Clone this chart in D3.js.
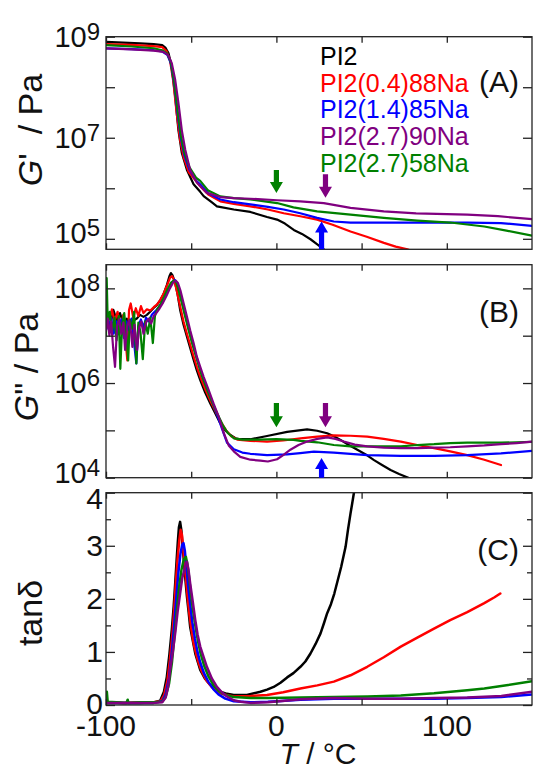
<!DOCTYPE html>
<html><head><meta charset="utf-8">
<script src="https://cdn.jsdelivr.net/npm/d3@7/dist/d3.min.js"></script>
<style>
body{margin:0;background:#fff}
svg{display:block}
text{font-family:"Liberation Sans",Arial,Helvetica,sans-serif}
</style>
</head><body>
<svg id="c" width="533" height="771"></svg>
<script>
// ---------------- DATA ----------------
const seriesNames = ["PI2", "PI2(0.4)88Na", "PI2(1.4)85Na", "PI2(2.7)90Na", "PI2(2.7)58Na"];
const seriesColors = ["#000000", "#ff0000", "#0000ff", "#800080", "#008000"];
const xTickLabels = ["-100", "0", "100"];
const xTickMajor = [-100, 0, 100];
const xTickMinor = [-50, 50];
const gpTicks = [1e5, 1e6, 1e7, 1e8, 1e9];
const gpLabelExp = [5, 7, 9];
const gppTicks = [1e4, 1e5, 1e6, 1e7, 1e8];
const gppLabelExp = [4, 6, 8];
const tanTicksMajor = [0, 1, 2, 3, 4];
const tanTicksMinor = [0.5, 1.5, 2.5, 3.5];

// G' (Pa) vs T (°C)
const gp_PI2 = [[-100,7.9e8],[-90,7.6e8],[-80,7.4e8],[-72,7.1e8],[-67,6.8e8],[-65,6.0e8],[-63.3,4.7e8],[-61.4,2.5e8],[-59.4,6.5e7],[-57.5,1.4e7],[-55.5,5.0e6],[-52.5,2.3e6],[-48.6,1.2e6],[-44.7,8.5e5],[-42.7,7.0e5],[-38,5.3e5],[-34.9,4.4e5],[-25,3.8e5],[-15.3,3.4e5],[-5.5,2.7e5],[0.4,2.4e5],[5,2.0e5],[10.2,1.5e5],[15,1.25e5],[20,9.8e4],[24,7.8e4],[27.8,6.2e4],[29,5.6e4]];
const gp_04_88 = [[-100,7.1e8],[-85,6.9e8],[-72,6.5e8],[-67,6.2e8],[-64.5,5.2e8],[-62.5,3.5e8],[-60.5,1.3e8],[-58.5,3.0e7],[-56.5,9.0e6],[-54.5,4.2e6],[-51.5,2.1e6],[-48,1.5e6],[-44.7,1.1e6],[-40,7.5e5],[-32.9,5.5e5],[-25,4.9e5],[-15.3,4.4e5],[-5,3.8e5],[4.3,3.2e5],[14,2.8e5],[23.9,2.4e5],[33,1.9e5],[43.5,1.4e5],[53,1.1e5],[63.1,8.3e4],[70,7.0e4],[76.9,6.2e4],[78,6.0e4]];
const gp_14_85 = [[-100,5.9e8],[-85,5.7e8],[-72,5.4e8],[-67,5.1e8],[-64,4.4e8],[-62,3.0e8],[-60,1.2e8],[-58,3.0e7],[-56,9.5e6],[-54,4.5e6],[-51,2.3e6],[-47,1.4e6],[-44.7,1.2e6],[-40,8.0e5],[-32.9,6.0e5],[-25,5.3e5],[-15.3,4.8e5],[-5,4.3e5],[4.3,3.8e5],[14,3.2e5],[23.9,2.6e5],[33.7,2.2e5],[43.5,2.1e5],[53.3,2.1e5],[73,2.1e5],[92.5,2.1e5],[112,2.1e5],[131.8,2.05e5],[150,1.8e5]];
const gp_27_90 = [[-100,5.9e8],[-85,5.6e8],[-72,5.3e8],[-66.3,5.0e8],[-63.5,4.3e8],[-61.4,3.0e8],[-59.4,1.4e8],[-57.5,4.9e7],[-55.5,1.4e7],[-53.5,5.8e6],[-50.6,2.3e6],[-46.7,1.3e6],[-40.8,8.1e5],[-32.9,6.7e5],[-25,6.4e5],[-15.3,6.2e5],[0.4,5.8e5],[14,5.5e5],[27.8,5.1e5],[43.5,4.1e5],[63,3.5e5],[82,3.2e5],[112,3.0e5],[130,2.8e5],[150,2.45e5]];
const gp_27_58 = [[-100,6.8e8],[-85,6.4e8],[-72,5.9e8],[-67,5.4e8],[-64,4.6e8],[-62,3.2e8],[-60,1.3e8],[-58,3.5e7],[-56,1.1e7],[-54,5.0e6],[-51,2.6e6],[-47,1.6e6],[-44.7,1.4e6],[-40,9.0e5],[-32.9,6.9e5],[-25,6.4e5],[-15.3,6.0e5],[0.4,5.1e5],[10,4.2e5],[23.9,3.5e5],[43.5,3.0e5],[63,2.6e5],[82.7,2.3e5],[102,2.1e5],[122,1.75e5],[135,1.45e5],[150,1.15e5]];

// G'' (Pa) vs T (°C)
const gpp_PI2 = [[-99.6,2.5e7],[-97.6,1.55e7],[-95.7,3.5e7],[-93.7,2.1e7],[-91.8,3.0e7],[-89.8,1.8e7],[-87.8,2.3e7],[-85.9,1.55e7],[-83.9,2.1e7],[-81.9,2.3e7],[-80,2.75e7],[-78,2.5e7],[-76,2.75e7],[-74.1,3.2e7],[-72.2,3.8e7],[-70.2,4.4e7],[-68.2,5.6e7],[-66.3,7.5e7],[-64.3,1.17e8],[-62.8,1.8e8],[-61.9,2.1e8],[-61,1.9e8],[-59.4,1.3e8],[-58,7.5e7],[-56.5,3.5e7],[-54.5,1.7e7],[-52.5,9.5e6],[-50.6,5.5e6],[-48.6,3.1e6],[-46.7,1.85e6],[-44.7,1.15e6],[-41.8,6.3e5],[-38.8,3.7e5],[-35.9,2.3e5],[-32.9,1.4e5],[-30,1.0e5],[-27,8.0e4],[-24,6.8e4],[-21.2,6.5e4],[-15.3,6.5e4],[-5.5,7.6e4],[6.3,9.3e4],[18,1.05e5],[23.9,9.8e4],[29.8,8.7e4],[33.7,7.5e4],[37.6,6.3e4],[42.5,4.9e4],[47.5,3.9e4],[52.4,3.1e4],[57.3,2.35e4],[62,1.85e4],[67,1.45e4],[72,1.2e4],[77.8,9.8e3]];
const gpp_04_88 = [[-99.6,3.0e7],[-98,2.2e7],[-96.5,3.6e7],[-95,2.0e7],[-93.2,3.2e7],[-91.5,1.4e7],[-89.8,2.8e7],[-88.5,8.0e6],[-87.5,3.0e6],[-86.5,3.5e7],[-85.5,4.8e7],[-84,2.4e7],[-82.5,3.8e7],[-81,2.6e7],[-79.5,4.2e7],[-78,3.0e7],[-76,3.6e7],[-74,3.4e7],[-72,4.0e7],[-70,4.6e7],[-68,5.8e7],[-66,8.0e7],[-64,1.2e8],[-62.3,1.7e8],[-61.2,1.8e8],[-60,1.5e8],[-58.5,9.0e7],[-56.5,4.2e7],[-54.5,2.0e7],[-52.5,1.1e7],[-50.5,6.3e6],[-48.5,3.6e6],[-46.5,2.1e6],[-44.5,1.3e6],[-41.5,7.0e5],[-38.5,4.0e5],[-35.5,2.4e5],[-32.5,1.5e5],[-29.5,1.0e5],[-26.5,7.5e4],[-23,6.4e4],[-15.3,6.0e4],[-5.5,5.8e4],[4,6.1e4],[14.1,6.8e4],[24,7.4e4],[33.7,7.8e4],[43.5,7.7e4],[53.3,7.4e4],[63,6.6e4],[73,5.8e4],[82.7,4.9e4],[92.5,4.2e4],[102,3.6e4],[112,3.0e4],[122,2.4e4],[131.8,1.85e4]];
const gpp_14_85 = [[-100,2.0e7],[-98.5,1.4e7],[-97,2.4e7],[-95.5,1.1e7],[-94,2.0e7],[-92.5,1.3e7],[-91,2.2e7],[-89.5,9.0e6],[-88,2.0e7],[-86.5,1.3e7],[-85,2.3e7],[-83.5,7.0e6],[-82.2,2.6e6],[-81,1.6e7],[-79.5,2.2e7],[-78,1.5e7],[-76.5,2.4e7],[-75,2.0e7],[-73,2.8e7],[-71,3.3e7],[-69,4.0e7],[-67,5.2e7],[-65,7.0e7],[-63,1.0e8],[-61.2,1.35e8],[-59.6,1.5e8],[-58.3,1.3e8],[-56.8,8.5e7],[-55,4.5e7],[-53,2.3e7],[-51,1.2e7],[-49,6.5e6],[-47,3.7e6],[-45,2.1e6],[-43,1.25e6],[-40,6.5e5],[-37,3.5e5],[-34.5,2.0e5],[-32,1.1e5],[-29,5.5e4],[-25,4.0e4],[-20,3.4e4],[-15.3,3.2e4],[-5.5,3.0e4],[6.3,3.1e4],[14,3.3e4],[22,3.55e4],[33.7,3.4e4],[53.3,3.0e4],[73,2.9e4],[92.5,2.9e4],[112,3.0e4],[131.8,3.25e4],[150,3.7e4]];
const gpp_27_90 = [[-100,1.3e7],[-99,2.3e7],[-98,1.0e7],[-97,2.0e7],[-95.8,5.5e6],[-94.7,2.2e6],[-93.5,1.6e7],[-92.3,2.2e7],[-91,1.1e7],[-89.8,1.9e7],[-88.8,5.0e6],[-87.6,1.6e7],[-86.4,2.1e7],[-85.3,1.2e7],[-84.5,5.8e6],[-83.3,1.7e7],[-81.8,5.0e6],[-80.5,1.5e7],[-79.3,2.0e7],[-78,1.1e7],[-76.5,1.9e7],[-75,2.3e7],[-73.5,1.8e7],[-72,2.6e7],[-70.5,3.0e7],[-68.5,3.8e7],[-66.5,5.0e7],[-64.5,7.0e7],[-62.5,1.0e8],[-60.5,1.35e8],[-59,1.45e8],[-57.8,1.3e8],[-56.3,9.0e7],[-54.5,4.9e7],[-52.5,2.5e7],[-50.6,1.3e7],[-48.6,7.0e6],[-46.7,3.6e6],[-44.7,2.2e6],[-42.7,1.35e6],[-40,7.5e5],[-36.9,3.7e5],[-34,2.0e5],[-31,9.0e4],[-28,4.8e4],[-25,3.6e4],[-21.2,2.75e4],[-15.3,2.4e4],[-9.4,2.3e4],[-5,2.2e4],[0.4,2.45e4],[4,3.0e4],[8.2,3.9e4],[13,4.9e4],[18,5.8e4],[24,6.6e4],[29.8,7.1e4],[34.6,6.6e4],[39.6,5.8e4],[46,5.0e4],[53.3,4.6e4],[63,4.3e4],[73,4.2e4],[82.7,4.2e4],[92.5,4.3e4],[102,4.4e4],[112,4.6e4],[122,4.8e4],[131.8,5.1e4],[141,5.4e4],[150,5.8e4]];
const gpp_27_58 = [[-100,1.0e7],[-99.6,1.65e8],[-99,2.0e7],[-97.8,3.2e7],[-96.5,1.2e7],[-95,2.4e7],[-93.8,8.0e6],[-92.5,2.6e7],[-91.6,2.0e6],[-90.5,1.8e7],[-89.3,3.0e7],[-88,1.0e7],[-87,3.0e6],[-86,2.2e7],[-84.7,1.4e7],[-83.5,3.2e7],[-82.2,2.6e6],[-81,1.9e7],[-79.8,1.2e7],[-78.4,3.2e6],[-77,2.0e7],[-75.5,1.1e7],[-74,2.4e7],[-72.5,7.0e6],[-71.3,2.6e7],[-70,3.6e7],[-68,4.6e7],[-66,6.5e7],[-64,9.5e7],[-62,1.3e8],[-60.3,1.45e8],[-59,1.4e8],[-57.5,9.5e7],[-55.5,5.0e7],[-53.5,2.5e7],[-51.5,1.3e7],[-49.5,7.0e6],[-47.5,4.0e6],[-45.5,2.3e6],[-43.5,1.35e6],[-40.5,7.0e5],[-37.5,3.8e5],[-34.5,2.2e5],[-31.5,1.3e5],[-28.5,8.8e4],[-25,6.8e4],[-20,6.4e4],[-10,6.4e4],[0,6.5e4],[10,6.3e4],[14.1,6.0e4],[24,5.6e4],[33.7,4.9e4],[43.5,4.6e4],[53.3,4.6e4],[63,4.6e4],[73,4.6e4],[82.7,4.9e4],[92.5,5.1e4],[102,5.4e4],[112,5.5e4],[131.8,5.5e4],[150,5.7e4]];

// tan delta vs T (°C)
const tan_PI2 = [[-100,0.05],[-90,0.04],[-80,0.04],[-72,0.05],[-68.2,0.08],[-66,0.25],[-64.3,0.53],[-62.8,0.95],[-61.4,1.41],[-60.3,1.85],[-59.4,2.29],[-58.6,2.7],[-57.9,3.05],[-57.2,3.35],[-56.5,3.45],[-55.8,3.3],[-55.2,3.05],[-54.5,2.79],[-53.5,2.4],[-52.5,2.04],[-51.5,1.75],[-50.6,1.47],[-49,1.2],[-47.6,0.97],[-46,0.8],[-44.7,0.66],[-42,0.5],[-38.8,0.38],[-35.8,0.3],[-32.9,0.25],[-29,0.21],[-25,0.19],[-17.3,0.19],[-9.4,0.25],[-5.5,0.29],[-1.6,0.34],[2.4,0.42],[6.3,0.52],[10,0.6],[14.1,0.72],[17,0.82],[20,0.97],[23,1.15],[25.9,1.35],[28,1.55],[29.8,1.73],[32,1.9],[34,2.1],[36,2.35],[38,2.6],[40.6,2.98],[42,3.3],[43.5,3.61],[44.5,3.8],[45.5,4.0],[46.5,4.3]];
const tan_04_88 = [[-100,0.05],[-90,0.04],[-80,0.05],[-72,0.05],[-68,0.07],[-66,0.18],[-64,0.45],[-62.5,0.85],[-61,1.35],[-60,1.8],[-59,2.3],[-58,2.75],[-57,3.1],[-56.2,3.3],[-55.4,3.2],[-54.7,2.95],[-54,2.7],[-53,2.35],[-52,2.0],[-51,1.7],[-50,1.45],[-48.5,1.15],[-47,0.95],[-45.5,0.78],[-44,0.65],[-41,0.46],[-38,0.34],[-35,0.26],[-32,0.21],[-28,0.18],[-25,0.16],[-15,0.17],[-5.5,0.19],[4,0.24],[14.1,0.31],[24,0.37],[33.7,0.44],[43.5,0.56],[53.3,0.72],[63,0.9],[73,1.1],[82.7,1.27],[92.5,1.44],[102,1.6],[112,1.75],[122,1.92],[128,2.03],[131.4,2.1]];
const tan_14_85 = [[-100,0.04],[-90,0.04],[-80,0.04],[-72,0.04],[-67,0.07],[-65,0.2],[-63,0.5],[-61.5,0.95],[-60,1.5],[-58.8,2.0],[-57.5,2.5],[-56.3,2.85],[-55.3,3.02],[-54.5,3.05],[-53.7,2.9],[-52.8,2.6],[-51.8,2.25],[-50.6,1.9],[-49.3,1.55],[-47.8,1.25],[-46.3,1.0],[-44.7,0.8],[-42.5,0.6],[-40,0.44],[-37,0.3],[-34,0.2],[-30,0.12],[-25,0.07],[-15,0.05],[-5,0.06],[5,0.08],[14.1,0.1],[33.7,0.12],[53.3,0.12],[73,0.12],[92.5,0.12],[112,0.13],[132,0.15],[150,0.2]];
const tan_27_90 = [[-100,0.04],[-90,0.04],[-80,0.04],[-72,0.04],[-67,0.05],[-65,0.14],[-63.5,0.35],[-62.4,0.66],[-60.8,1.0],[-59.4,1.35],[-58,1.75],[-56.5,2.1],[-55.2,2.4],[-54.1,2.54],[-53.2,2.66],[-52.5,2.7],[-51.6,2.55],[-50.6,2.29],[-49.1,1.95],[-47.6,1.6],[-46.2,1.32],[-44.7,1.1],[-42.7,0.9],[-40.8,0.72],[-37.9,0.5],[-34.9,0.34],[-32,0.24],[-29,0.16],[-25,0.09],[-21,0.06],[-15.3,0.04],[-5,0.05],[5,0.08],[14.1,0.11],[33.7,0.13],[53.3,0.12],[73,0.12],[92.5,0.13],[112,0.14],[132,0.17],[150,0.25]];
const tan_27_58 = [[-100,0.05],[-99.5,0.25],[-99,0.06],[-94,0.05],[-88,0.04],[-87.3,0.1],[-86.8,0.04],[-80,0.05],[-72,0.05],[-67,0.06],[-65,0.15],[-63,0.4],[-61.3,0.8],[-59.8,1.3],[-58.4,1.8],[-57,2.25],[-55.7,2.55],[-54.3,2.75],[-53.1,2.79],[-52.2,2.65],[-51.2,2.4],[-50.2,2.1],[-49,1.8],[-47.6,1.5],[-46,1.2],[-44.5,0.97],[-42.5,0.75],[-40,0.55],[-37,0.38],[-34,0.27],[-30,0.19],[-25,0.15],[-15,0.13],[-5,0.13],[14.1,0.14],[33.7,0.15],[53.3,0.16],[73,0.18],[92.5,0.22],[112,0.28],[122,0.31],[135,0.37],[150,0.45]];

// arrows: [T, tail value, tip value, series index]
const arrowsGp = [[0, 2.3e6, 8.1e5, 4], [28.8, 1.9e6, 6.5e5, 3], [26.5, 6.2e4, 2.2e5, 2]];
const arrowsGpp = [[0, 3.8e5, 1.17e5, 4], [28.8, 3.8e5, 1.17e5, 3], [26.5, 1.0e4, 2.6e4, 2]];

// ---------------- DRAW ----------------
const svg = d3.select("#c");
const X0 = 106, X1 = 532;
const x = d3.scaleLinear().domain([-100, 150]).range([X0, X1]);
const P = {
  A: {top: 36.7, bottom: 249.3},
  B: {top: 264.7, bottom: 477.7},
  C: {top: 492.7, bottom: 705}
};
const yA = d3.scaleLog().domain([6.2e4, 1e9]).range([P.A.bottom, P.A.top]);
const yB = d3.scaleLog().domain([1e4, 3.16e8]).range([P.B.bottom, P.B.top]);
const yC = d3.scaleLinear().domain([0, 4]).range([P.C.bottom, P.C.top]);

const FRAME = "#222";
// draw order: black, red, blue, green, purple
const order = [0, 1, 2, 4, 3];

function panel(id, y, p, data, lw) {
  const g = svg.append("g");
  g.append("clipPath").attr("id", "clip" + id).append("rect")
    .attr("x", X0).attr("y", p.top).attr("width", X1 - X0).attr("height", p.bottom - p.top);
  const line = d3.line().x(d => x(d[0])).y(d => y(d[1]));
  const lg = g.append("g").attr("clip-path", `url(#clip${id})`);
  order.forEach(i => {
    lg.append("path").datum(data[i]).attr("d", line)
      .attr("fill", "none").attr("stroke", seriesColors[i])
      .attr("stroke-width", lw).attr("stroke-linejoin", "round").attr("stroke-linecap", "round");
  });
  return g;
}

function axes(g, y, p, yMajor, yMinor) {
  const clean = s => { s.select(".domain").remove(); s.attr("color", FRAME).selectAll("line").attr("stroke-width", 1.3); };
  g.append("g").attr("transform", `translate(${X0},0)`)
    .call(d3.axisLeft(y).tickValues(yMajor).tickSizeInner(-9).tickSizeOuter(0).tickFormat("")).call(clean);
  g.append("g").attr("transform", `translate(${X1},0)`)
    .call(d3.axisRight(y).tickValues(yMajor).tickSizeInner(-9).tickSizeOuter(0).tickFormat("")).call(clean);
  if (yMinor) {
    g.append("g").attr("transform", `translate(${X0},0)`)
      .call(d3.axisLeft(y).tickValues(yMinor).tickSizeInner(-5).tickSizeOuter(0).tickFormat("")).call(clean);
    g.append("g").attr("transform", `translate(${X1},0)`)
      .call(d3.axisRight(y).tickValues(yMinor).tickSizeInner(-5).tickSizeOuter(0).tickFormat("")).call(clean);
  }
  const xt = xTickMajor.concat(xTickMinor);
  g.append("g").attr("transform", `translate(0,${p.top})`)
    .call(d3.axisTop(x).tickValues(xt).tickSizeInner(-6).tickSizeOuter(0).tickFormat("")).call(clean);
  g.append("g").attr("transform", `translate(0,${p.bottom})`)
    .call(d3.axisBottom(x).tickValues(xt).tickSizeInner(-6).tickSizeOuter(0).tickFormat("")).call(clean);
  g.append("rect").attr("x", X0).attr("y", p.top).attr("width", X1 - X0).attr("height", p.bottom - p.top)
    .attr("fill", "none").attr("stroke", FRAME).attr("stroke-width", 1.3);
}

// lowShift: small vertical nudge (px) for the lowest label, as in the reference
function logLabels(g, y, exps, lowShift) {
  exps.forEach((e, i) => {
    const nudge = i === 0 ? lowShift : 0;
    const t = g.append("text").attr("x", X0 - 6).attr("y", y(Math.pow(10, e)) + 10 + nudge)
      .attr("text-anchor", "end").attr("font-size", 29).attr("fill", "#111");
    t.append("tspan").text("10");
    t.append("tspan").attr("font-size", 24).attr("dy", -7).text(String(e));
  });
}

function arrow(g, xp, yTail, yTip, color) {
  const dir = Math.sign(yTip - yTail);
  const hl = 11, hw = 6.5, sw = 2.6;
  const yb = yTip - dir * hl;
  const d = `M${xp - sw},${yTail}L${xp + sw},${yTail}L${xp + sw},${yb}L${xp + hw},${yb}L${xp},${yTip}L${xp - hw},${yb}L${xp - sw},${yb}Z`;
  g.append("path").attr("d", d).attr("fill", color);
}

// Panel A
const gA = panel("A", yA, P.A, [gp_PI2, gp_04_88, gp_14_85, gp_27_90, gp_27_58], 2.2);
axes(gA, yA, P.A, gpTicks, null);
logLabels(gA, yA, gpLabelExp, -6);
arrowsGp.forEach(a => arrow(gA, x(a[0]), yA(a[1]), yA(a[2]), seriesColors[a[3]]));

// Panel B
const gB = panel("B", yB, P.B, [gpp_PI2, gpp_04_88, gpp_14_85, gpp_27_90, gpp_27_58], 2.2);
axes(gB, yB, P.B, gppTicks, null);
logLabels(gB, yB, gppLabelExp, -5);
arrowsGpp.forEach(a => arrow(gB, x(a[0]), yB(a[1]), yB(a[2]), seriesColors[a[3]]));

// Panel C
const gC = panel("C", yC, P.C, [tan_PI2, tan_04_88, tan_14_85, tan_27_90, tan_27_58], 2.5);
axes(gC, yC, P.C, tanTicksMajor, tanTicksMinor);
tanTicksMajor.forEach(v => {
  const nudge = v === 4 ? 6 : (v === 0 ? -2 : 0);
  gC.append("text").attr("x", X0 - 3).attr("y", yC(v) + 10.5 + nudge).attr("text-anchor", "end")
    .attr("font-size", 30).attr("fill", "#111").text(String(v));
});
xTickMajor.forEach((v, i) => {
  gC.append("text").attr("x", x(v)).attr("y", 736).attr("text-anchor", "middle")
    .attr("font-size", 30).attr("fill", "#111").text(xTickLabels[i]);
});

// Axis titles
const xt = svg.append("text").attr("x", 318).attr("y", 764).attr("text-anchor", "middle")
  .attr("font-size", 30).attr("fill", "#111");
xt.append("tspan").attr("font-style", "italic").text("T");
xt.append("tspan").text(" / \u00B0C");

function yTitle(cx, cy, parts) {
  const t = svg.append("text").attr("transform", `translate(${cx},${cy}) rotate(-90)`)
    .attr("text-anchor", "middle").attr("font-size", 34).attr("fill", "#111")
    .style("white-space", "pre");
  parts.forEach(pt => {
    const s = t.append("tspan").text(pt[0]);
    if (pt[1]) s.attr("font-style", "italic");
  });
}
yTitle(42, 130, [["G", true], ["'  / Pa", false]]);
yTitle(38, 367, [["G", true], ["\" / Pa", false]]);
yTitle(42, 613, [["tan\u03B4", false]]);

// Legend
seriesNames.forEach((n, i) => {
  svg.append("text").attr("x", 320).attr("y", 65 + i * 26.7).attr("font-size", 25)
    .attr("fill", seriesColors[i]).text(n);
});

// Panel tags
[["(A)", 92], ["(B)", 322], ["(C)", 560]].forEach(d => {
  svg.append("text").attr("x", 519).attr("y", d[1]).attr("text-anchor", "end")
    .attr("font-size", 30).attr("fill", "#111").text(d[0]);
});
</script>
</body></html>
